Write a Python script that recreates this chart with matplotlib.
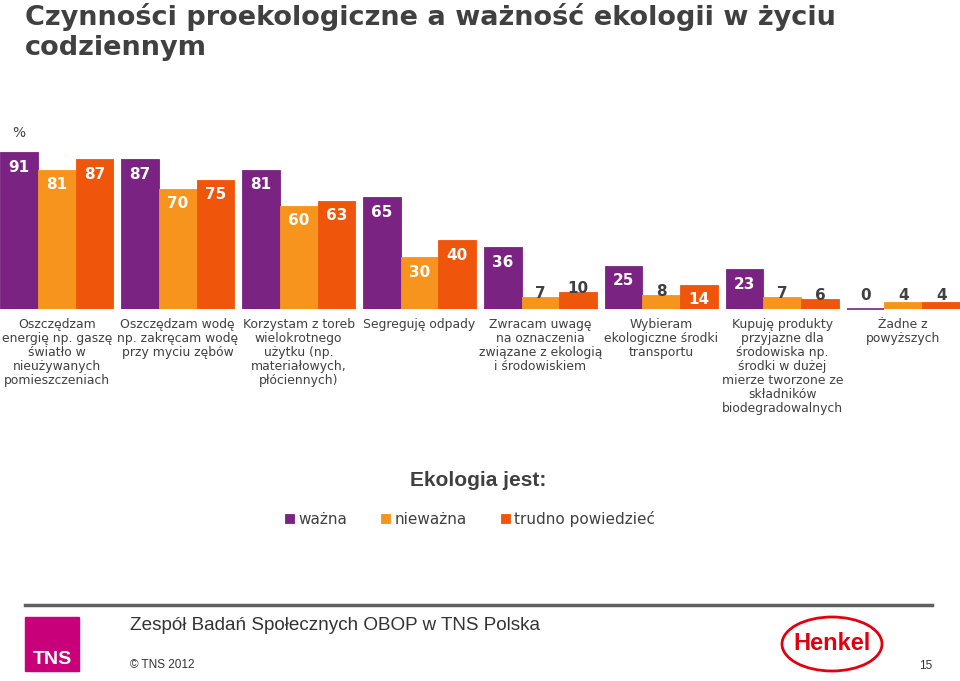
import matplotlib.pyplot as plt
from matplotlib.patches import Rectangle, Ellipse
import numpy as np

# Data
categories = [
    "Oszczędzam\nenergię np. gaszę\nświatło w\nnieużywanych\npomieszczeniach",
    "Oszczędzam wodę\nnp. zakręcam wodę\nprzy myciu zębów",
    "Korzystam z toreb\nwielokrotnego\nużytku (np.\nmateriałowych,\npłóciennych)",
    "Segreguję odpady",
    "Zwracam uwagę\nna oznaczenia\nzwiązane z ekologią\ni środowiskiem",
    "Wybieram\nekologiczne środki\ntransportu",
    "Kupuję produkty\nprzyjazne dla\nśrodowiska np.\nśrodki w dużej\nmierze tworzone ze\nskładników\nbiodegradowalnych",
    "Żadne z\npowyższych",
]
wazna = [91, 87, 81, 65, 36, 25, 23, 0]
niewazna = [81, 70, 60, 30, 7, 8, 7, 4]
trudno = [87, 75, 63, 40, 10, 14, 6, 4]

series_names = ["ważna", "nieważna", "trudno powiedzieć"]
colors = ["#7B2382", "#F7941D", "#EF560B"]
dark = "#404040"

fig = plt.figure(figsize=(9.6, 6.81), dpi=100)
W, H = 960, 681

# axes: baseline at y=309 px, 100 units = 172 px
ax = fig.add_axes([0, (H - 309) / H, 1, 172 / H])
ax.set_xlim(-0.469, 7.469)
ax.set_ylim(0, 100)
ax.axis("off")

w = 0.313
x = np.arange(len(categories))
handles = []
for j, (vals, col, name) in enumerate(zip([wazna, niewazna, trudno], colors, series_names)):
    pos = x + (j - 1) * w
    b = ax.bar(pos, vals, width=w, color=col, edgecolor=col, linewidth=0.6, label=name)
    handles.append(b)
    for xp, v in zip(pos, vals):
        if v >= 14:
            ax.text(xp, v - 8.7, str(v), ha="center", va="center", color="white",
                    fontsize=11, fontweight="bold")
        else:
            ax.text(xp, max(v + 2, 8), str(v), ha="center", va="center", color=dark,
                    fontsize=11, fontweight="bold")
    # zero-height bars still show as a thin baseline mark
    for xp, v in zip(pos, vals):
        if v == 0:
            ax.plot([xp - w / 2, xp + w / 2], [0, 0], color=col, linewidth=1.2,
                    solid_capstyle="butt", clip_on=False)

# category labels under each group
for i, cat in enumerate(categories):
    xf = (i + 0.469) / 7.938
    fig.text(xf, 1 - 318 / H, cat, ha="center", va="top", fontsize=8.9,
             color=dark, linespacing=1.1)

# title
fig.text(25 / W, 1 - 25 / H, "Czynności proekologiczne a ważność ekologii w życiu",
         ha="left", va="baseline", fontsize=19.5, fontweight="bold", color=dark)
fig.text(25 / W, 1 - 55 / H, "codziennym",
         ha="left", va="baseline", fontsize=19.5, fontweight="bold", color=dark)
fig.text(12 / W, 1 - 133 / H, "%", ha="left", va="center", fontsize=10, color=dark)

# legend
fig.text(478 / W, 1 - 480 / H, "Ekologia jest:", ha="center", va="center",
         fontsize=15, fontweight="bold", color=dark, family="Liberation Sans")
fig.legend(handles=handles, labels=series_names, loc="center",
           bbox_to_anchor=(470 / W, 1 - 519 / H), ncol=3, frameon=False,
           fontsize=11, handlelength=0.6, handleheight=0.6, handletextpad=0.3,
           columnspacing=2.2, labelcolor=dark)

# footer
fig.add_artist(plt.Line2D([25 / W, 932 / W], [1 - 605 / H, 1 - 605 / H],
                          color="#606060", linewidth=2.5, transform=fig.transFigure))
fig.add_artist(Rectangle((25 / W, 1 - 671 / H), 54 / W, 54 / H,
                         color="#C8007A", transform=fig.transFigure))
fig.text(52 / W, 1 - 659 / H, "TNS", ha="center", va="center", color="white",
         fontsize=14, fontweight="bold", family="Liberation Sans", stretch="condensed")
fig.text(130 / W, 1 - 626 / H, "Zespół Badań Społecznych OBOP w TNS Polska",
         ha="left", va="center", fontsize=13.6, color="#333333",
         family="Liberation Sans")
fig.text(130 / W, 1 - 665 / H, "© TNS 2012", ha="left", va="center",
         fontsize=8.5, color="#333333", family="Liberation Sans")
fig.text(932 / W, 1 - 666 / H, "15", ha="right", va="center",
         fontsize=8.5, color="#333333", family="Liberation Sans")
fig.add_artist(Ellipse((832 / W, 1 - 644 / H), 100 / W, 54 / H, fill=False,
                       edgecolor="#E1000F", linewidth=2, transform=fig.transFigure))
fig.text(832 / W, 1 - 644 / H, "Henkel", ha="center", va="center",
         fontsize=17, fontweight="bold", color="#E1000F", family="Liberation Sans")

fig.savefig("out.png", dpi=100)
